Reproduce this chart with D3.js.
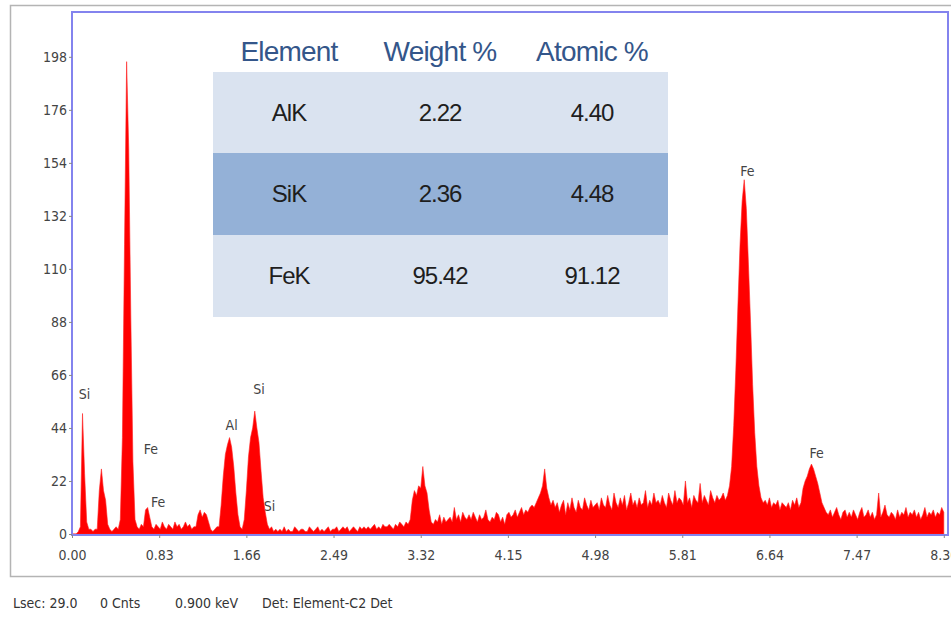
<!DOCTYPE html>
<html>
<head>
<meta charset="utf-8">
<script src="https://cdn.jsdelivr.net/npm/d3@7"></script>
<style>
  body { margin: 0; background: #fff; }
  text { font-family: "Liberation Sans Narrow", "DejaVu Sans Condensed", sans-serif; }
</style>
</head>
<body>
<script>
// spectrum counts, one value every 0.02 keV starting at 0.00
var binKeV = 0.02;
var counts = [
  0,0,0,1,3,50,25,5,2,2,            // 0.00
  1,2,2,18,27,18,14,4,2,1,          // 0.20
  2,3,2,6,40,120,196,160,90,30,     // 0.40
  6,3,2,4,3,10,11,7,3,2,            // 0.60
  4,3,2,5,3,2,4,3,2,5,              // 0.80
  3,4,2,3,5,3,4,2,3,3,              // 1.00
  8,10,7,9,8,5,2,1,2,3,             // 1.20
  3,12,24,33,37,40,36,28,17,8,      // 1.40
  3,2,6,18,32,40,44,51,44,38,       // 1.60
  26,15,9,4,2,3,1,2,1,2,            // 1.80
  1,3,1,2,1,1,3,2,1,2,              // 2.00
  2,1,1,3,2,1,2,3,1,2,              // 2.20
  1,2,3,1,2,2,3,1,2,3,              // 2.40
  2,3,1,2,3,2,1,3,2,3,              // 2.60
  2,3,2,3,4,2,3,2,4,3,              // 2.80
  3,4,3,2,4,3,5,4,3,5,              // 3.00
  4,6,14,18,16,20,19,28,20,17,      // 3.20
  10,5,4,6,5,8,4,7,5,6,             // 3.40
  7,5,11,6,8,5,9,7,6,8,             // 3.60
  6,9,7,5,8,6,7,10,6,5,             // 3.80
  7,6,9,8,5,7,4,8,9,7,              // 4.00
  8,10,7,9,11,8,10,9,11,12,         // 4.20
  11,13,15,17,20,27,19,15,12,14,    // 4.40
  11,13,9,12,14,8,13,10,15,11,      // 4.60
  9,14,11,10,15,12,10,14,11,12,     // 4.80
  13,10,15,12,11,16,12,10,17,13,    // 5.00
  11,15,12,16,10,13,17,12,14,11,    // 5.20
  15,12,13,18,11,14,12,17,13,14,    // 5.40
  12,16,13,11,17,14,12,18,13,15,    // 5.60
  14,12,22,13,15,11,16,14,13,21,    // 5.80
  13,16,14,12,18,15,13,16,14,15,    // 6.00
  17,14,16,20,28,45,68,95,120,138,  // 6.20
  147,135,112,88,62,42,28,20,15,13, // 6.40
  14,12,15,11,13,12,14,10,13,12,    // 6.60
  11,13,10,14,12,15,11,13,19,22,    // 6.80
  24,27,29,27,24,21,17,13,11,9,     // 7.00
  8,10,7,9,11,8,6,9,10,7,           // 7.20
  9,7,10,8,6,9,11,7,8,10,           // 7.40
  7,9,6,8,17,7,9,12,8,7,            // 7.60
  9,8,6,10,7,9,8,11,7,9,            // 7.80
  8,10,7,9,6,8,11,7,9,8,            // 8.00
  10,7,9,8,11,9                     // 8.20
];

var yTicks = [0, 22, 44, 66, 88, 110, 132, 154, 176, 198];
var xTicks = [0, 0.83, 1.66, 2.49, 3.32, 4.15, 4.98, 5.81, 6.64, 7.47, 8.30];

// peak labels: element, keV, counts (text baseline)
var peakNames = ["Si", "Fe", "Fe", "Al", "Si", "Si", "Fe", "Fe"];
var peakKeV   = [0.12, 0.75, 0.82, 1.52, 1.78, 1.88, 6.43, 7.09];
var peakCnt   = [56, 33, 11, 43, 58, 9.5, 148.5, 31.5];

var footer = ["Lsec: 29.0", "0 Cnts", "0.900 keV", "Det: Element-C2 Det"];
var footerX = [13, 100, 175, 262];

// quantification table
var tableHead = ["Element", "Weight %", "Atomic %"];
var elements = ["AlK", "SiK", "FeK"];
var weightPct = ["2.22", "2.36", "95.42"];
var atomicPct = ["4.40", "4.48", "91.12"];

var width = 951, height = 617;
var plotL = 72, plotR = 948, plotT = 12, plotB = 534;

var svg = d3.select("body").append("svg").attr("width", width).attr("height", height);

var x = d3.scaleLinear().domain([0, 8.34]).range([plotL, plotR]);
var y = d3.scaleLinear().domain([0, 216.6]).range([plotB, plotT]);

// outer gray frame
svg.append("rect")
    .attr("x", 10.5).attr("y", 5.5).attr("width", 960).attr("height", 571)
    .attr("fill", "#fff").attr("stroke", "#b4b4b4").attr("stroke-width", 1.5);

// spectrum
var area = d3.area()
    .x(function(d, i) { return x(i * binKeV); })
    .y0(y(0))
    .y1(function(d) { return y(d); });

svg.append("path")
    .datum(counts)
    .attr("d", area)
    .attr("fill", "#ff0000")
    .attr("stroke", "#ff2020")
    .attr("stroke-width", 0.6);

// plot border
svg.append("rect")
    .attr("x", plotL).attr("y", plotT).attr("width", plotR - plotL).attr("height", plotB - plotT + 1)
    .attr("fill", "none").attr("stroke", "#8383ee").attr("stroke-width", 2);

// axes
var yAxis = svg.append("g")
    .attr("transform", "translate(" + plotL + ",0)")
    .call(d3.axisLeft(y).tickValues(yTicks).tickSize(3).tickPadding(2));
var xAxis = svg.append("g")
    .attr("transform", "translate(0," + (plotB + 1) + ")")
    .call(d3.axisBottom(x).tickValues(xTicks).tickSize(3).tickPadding(12)
        .tickFormat(function(d) { return d.toFixed(2); }));

[yAxis, xAxis].forEach(function(g) {
    g.select(".domain").remove();
    g.selectAll("line").attr("stroke", "#888");
    g.selectAll("text").attr("fill", "#444").style("font-size", "14px");
});

// peak labels
svg.selectAll("text.peak").data(peakNames).enter()
    .append("text")
    .attr("class", "peak")
    .attr("x", function(d, i) { return x(peakKeV[i]); })
    .attr("y", function(d, i) { return y(peakCnt[i]); })
    .attr("text-anchor", "middle")
    .attr("fill", "#444")
    .style("font-size", "14px")
    .text(String);

// table
var colX = [289, 440, 592];
var rowTop = [72, 153, 235], rowH = [81, 82, 82];
var rowFill = ["#dae3f0", "#94b1d7", "#dae3f0"];

svg.selectAll("text.head").data(tableHead).enter()
    .append("text")
    .attr("class", "head")
    .attr("x", function(d, i) { return colX[i]; })
    .attr("y", 61)
    .attr("text-anchor", "middle")
    .attr("fill", "#34568a")
    .style("font-family", "'Liberation Sans', Arial, sans-serif")
    .style("font-size", "28px")
    .style("letter-spacing", "-0.8px")
    .text(String);

var rows = svg.selectAll("g.row").data(elements).enter()
    .append("g").attr("class", "row");

rows.append("rect")
    .attr("x", 213).attr("width", 455)
    .attr("y", function(d, i) { return rowTop[i]; })
    .attr("height", function(d, i) { return rowH[i]; })
    .attr("fill", function(d, i) { return rowFill[i]; });

rows.each(function(d, i) {
    var cells = [elements[i], weightPct[i], atomicPct[i]];
    d3.select(this).selectAll("text").data(cells).enter()
        .append("text")
        .attr("x", function(c, j) { return colX[j]; })
        .attr("y", rowTop[i] + rowH[i] / 2 + 8)
        .attr("text-anchor", "middle")
        .attr("fill", "#1e1e1e")
        .style("font-family", "'Liberation Sans', Arial, sans-serif")
        .style("font-size", "24px")
        .style("letter-spacing", "-1px")
        .text(String);
});

// status line
svg.selectAll("text.foot").data(footer).enter()
    .append("text")
    .attr("class", "foot")
    .attr("x", function(d, i) { return footerX[i]; })
    .attr("y", 608)
    .attr("fill", "#333")
    .style("font-size", "14px")
    .text(String);
</script>
</body>
</html>
